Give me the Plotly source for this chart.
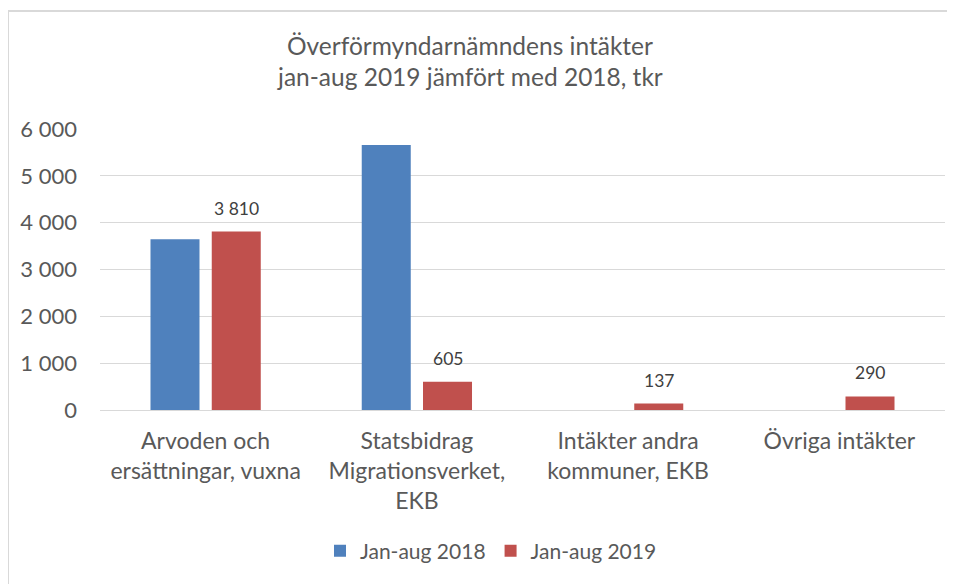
import plotly.graph_objects as go

categories = ["Arvoden och<br>ersättningar, vuxna", "Statsbidrag<br>Migrationsverket,<br>EKB",
              "Intäkter andra<br>kommuner, EKB", "Övriga intäkter"]
series_names = ["Jan-aug 2018", "Jan-aug 2019"]
values_2018 = [3645, 5660, 0, 0]
values_2019 = [3810, 605, 137, 290]
tick_vals = [0, 1000, 2000, 3000, 4000, 5000, 6000]
title_lines = ["Överförmyndarnämndens intäkter", "jan-aug 2019 jämfört med 2018, tkr"]

FONT = "Lato, 'Open Sans', sans-serif"
TXT = "#595959"
W, H = 947, 576
L, R, T, B = 92, 10, 121, 174
PW, PH = W - L - R, H - T - B
BARGAP = 0.42

fig = go.Figure()
fig.add_trace(go.Bar(x=categories, y=values_2018, name=series_names[0],
                     marker=dict(color="#4f81bd", line=dict(width=0))))
fig.add_trace(go.Bar(x=categories, y=values_2019, name=series_names[1],
                     marker=dict(color="#c0504d", line=dict(width=0))))

# data labels of the 2019 series, centred above the red bars
slot = PW / len(categories) * (1 - BARGAP) / 2
annotations = [
    dict(x=c, y=v, xref="x", yref="y", text=f"{v:,}".replace(",", " "),
         showarrow=False, xshift=slot / 2, yshift=23.5, yanchor="middle",
         font=dict(size=17.5, color="#404040", family=FONT))
    for c, v in zip(categories, values_2019)
]
for line, ypx in zip(title_lines, [37, 69]):
    annotations.append(dict(x=(462 - L) / PW, xref="paper", xanchor="center",
                            y=(H - B - ypx) / PH, yref="paper", yanchor="middle",
                            text=line, showarrow=False,
                            font=dict(size=24.5, color=TXT, family=FONT)))

border = dict(color="#d9d9d9", width=2)
fig.update_layout(
    width=W, height=H,
    paper_bgcolor="white", plot_bgcolor="white",
    margin=dict(l=L, r=R, t=T, b=B, autoexpand=False),
    separators=", ",
    barmode="group", bargap=BARGAP, bargroupgap=0.2,
    font=dict(family=FONT, color=TXT),
    annotations=annotations,
    legend=dict(orientation="h", x=(483 - L) / PW, xanchor="center",
                y=-(543 - (T + PH)) / PH, yanchor="middle",
                font=dict(size=21, color=TXT, family=FONT)),
    showlegend=True,
    shapes=[
        dict(type="line", xref="paper", yref="paper",
             x0=(0 - L) / PW, x1=(0 - L) / PW, y0=-2, y1=(T + PH - 3) / PH, line=border),
        dict(type="line", xref="paper", yref="paper",
             x0=(0 - L) / PW, x1=1.1, y0=(T + PH - 3) / PH, y1=(T + PH - 3) / PH, line=border),
    ],
)
fig.update_yaxes(range=[0, 6000], tickvals=tick_vals, tickformat=",d",
                 showgrid=True, gridcolor="#d9d9d9", gridwidth=1,
                 zeroline=True, zerolinecolor="#d9d9d9", zerolinewidth=1,
                 showline=False, ticks="", ticklabelstandoff=22, automargin=False,
                 tickfont=dict(size=22, color=TXT, family=FONT))
fig.update_xaxes(showline=False, ticks="", showgrid=False, automargin=False,
                 tickfont=dict(size=23, color=TXT, family=FONT), ticklabelstandoff=15)

fig.write_html("out.html")
